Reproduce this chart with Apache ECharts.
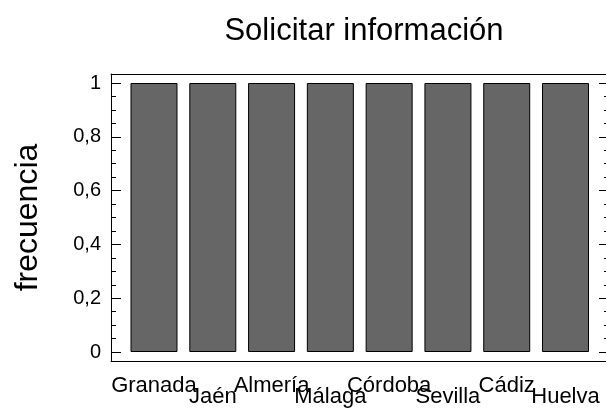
<!DOCTYPE html>
<html>
<head>
<meta charset="utf-8">
<script src="https://cdn.jsdelivr.net/npm/echarts@6/dist/echarts.min.js"></script>
<style>html,body{margin:0;padding:0;background:#fff;}#c{width:606px;height:408px;}</style>
</head>
<body>
<div id="c"></div>
<script>
var categories = ['Granada','Jaén','Almería','Málaga','Córdoba','Sevilla','Cádiz','Huelva'];
var frecuencia = [1,1,1,1,1,1,1,1];
var titleText = 'Solicitar información';
var yName = 'frecuencia';

var FONT = 'Liberation Sans, Arial, Helvetica, sans-serif';
var chart = echarts.init(document.getElementById('c'), null, {renderer:'canvas'});
function fmt(v){ return (v===0||v===1) ? String(v) : v.toFixed(1).replace('.', ','); }
var tickCommon = {
  type:'value', gridIndex:1, min:0, max:1, interval:0.2,
  axisLine:{show:false}, splitLine:{show:false},
  axisTick:{show:true, inside:true, length:10, lineStyle:{color:'#000', width:1}},
  minorTick:{show:true, splitNumber:4, length:5, lineStyle:{color:'#000', width:1}},
  minorSplitLine:{show:false}
};
var option = {
  backgroundColor:'#fff',
  animation:false,
  title:{
    text:titleText, left:359, top:11, textAlign:'center',
    textStyle:{fontFamily:FONT, fontSize:31, fontWeight:'normal', color:'#000'}
  },
  grid:[
    {left:111, right:-3, top:74, bottom:47, containLabel:false},
    {left:124.6, right:11.1, top:83, bottom:56, containLabel:false}
  ],
  xAxis:[
    {type:'value', gridIndex:0, min:0, max:1, position:'bottom',
      axisLine:{show:true, lineStyle:{color:'#000', width:1}}, axisTick:{show:false}, axisLabel:{show:false}, splitLine:{show:false}},
    {type:'value', gridIndex:0, min:0, max:1, position:'top',
      axisLine:{show:true, lineStyle:{color:'#000', width:1}}, axisTick:{show:false}, axisLabel:{show:false}, splitLine:{show:false}},
    {type:'category', gridIndex:1, data:categories, position:'bottom',
      axisLine:{show:false}, axisTick:{show:false}, splitLine:{show:false},
      axisLabel:{
        interval:0, hideOverlap:false, margin:23, verticalAlign:'top', color:'#000',
        fontFamily:FONT, fontSize:22,
        formatter:function(v, i){ return (i % 2 === 0 ? '{a|' : '{b|') + v + '}'; },
        rich:{
          a:{fontFamily:FONT, fontSize:22, lineHeight:22, color:'#000'},
          b:{fontFamily:FONT, fontSize:22, lineHeight:22, color:'#000', padding:[21,0,0,0]}
        }
      }}
  ],
  yAxis:[
    {type:'value', gridIndex:0, min:0, max:1, position:'left',
      axisLine:{show:true, lineStyle:{color:'#000', width:1}}, axisTick:{show:false}, axisLabel:{show:false}, splitLine:{show:false}},
    Object.assign({}, tickCommon, {
      position:'left', offset:13.6,
      name:yName, nameLocation:'middle', nameGap:67, nameRotate:90,
      nameTextStyle:{fontFamily:FONT, fontSize:32, color:'#000'},
      axisLabel:{show:true, margin:10, fontFamily:FONT, fontSize:20, color:'#000', formatter:fmt}
    }),
    Object.assign({}, tickCommon, {
      position:'right', offset:14.1,
      axisLabel:{show:false}
    })
  ],
  series:[{
    type:'bar', xAxisIndex:2, yAxisIndex:1, data:frecuencia,
    barWidth:47,
    itemStyle:{color:'#666666', borderColor:'#000', borderWidth:1},
    emphasis:{disabled:true}
  }]
};
chart.setOption(option);
</script>
</body>
</html>
